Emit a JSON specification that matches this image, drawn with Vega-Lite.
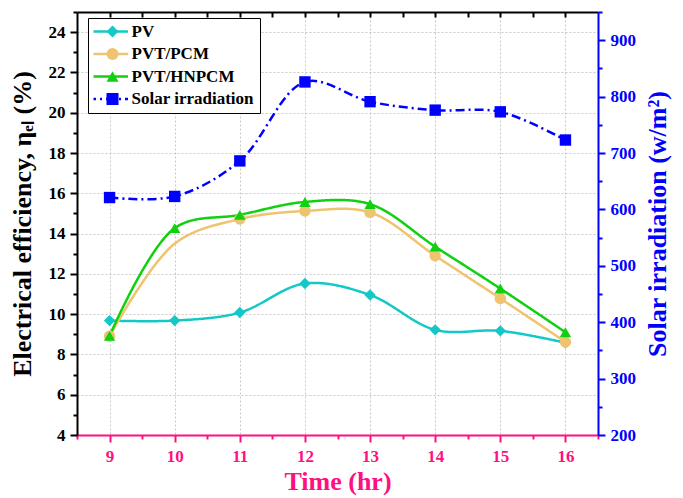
{
  "$schema": "https://vega.github.io/schema/vega-lite/v6.json",
  "width": 521,
  "height": 423,
  "autosize": {"type": "none"},
  "padding": {"left": 77, "top": 12, "right": 85, "bottom": 63},
  "background": "white",
  "config": {"font": "Liberation Serif", "view": {"stroke": null}},
  "datasets": {
    "eff": [
      {"series": "PV", "time": 9, "eff": 9.68},
      {"series": "PV", "time": 10, "eff": 9.68},
      {"series": "PV", "time": 11, "eff": 10.08},
      {"series": "PV", "time": 12, "eff": 11.52},
      {"series": "PV", "time": 13, "eff": 10.95},
      {"series": "PV", "time": 14, "eff": 9.22},
      {"series": "PV", "time": 15, "eff": 9.17},
      {"series": "PV", "time": 16, "eff": 8.58},
      {"series": "PVT/PCM", "time": 9, "eff": 8.9},
      {"series": "PVT/PCM", "time": 10, "eff": 13.5},
      {"series": "PVT/PCM", "time": 11, "eff": 14.72},
      {"series": "PVT/PCM", "time": 12, "eff": 15.12},
      {"series": "PVT/PCM", "time": 13, "eff": 15.05},
      {"series": "PVT/PCM", "time": 14, "eff": 12.9},
      {"series": "PVT/PCM", "time": 15, "eff": 10.78},
      {"series": "PVT/PCM", "time": 16, "eff": 8.62},
      {"series": "PVT/HNPCM", "time": 9, "eff": 8.92},
      {"series": "PVT/HNPCM", "time": 10, "eff": 14.27},
      {"series": "PVT/HNPCM", "time": 11, "eff": 14.93},
      {"series": "PVT/HNPCM", "time": 12, "eff": 15.57},
      {"series": "PVT/HNPCM", "time": 13, "eff": 15.46},
      {"series": "PVT/HNPCM", "time": 14, "eff": 13.35},
      {"series": "PVT/HNPCM", "time": 15, "eff": 11.27},
      {"series": "PVT/HNPCM", "time": 16, "eff": 9.1}
    ],
    "solar": [
      {"series": "Solar irradiation", "time": 9, "irr": 621},
      {"series": "Solar irradiation", "time": 10, "irr": 623},
      {"series": "Solar irradiation", "time": 11, "irr": 686},
      {"series": "Solar irradiation", "time": 12, "irr": 826},
      {"series": "Solar irradiation", "time": 13, "irr": 791},
      {"series": "Solar irradiation", "time": 14, "irr": 776},
      {"series": "Solar irradiation", "time": 15, "irr": 773},
      {"series": "Solar irradiation", "time": 16, "irr": 723}
    ]
  },
  "layer": [
    {
      "data": {"name": "eff"},
      "encoding": {
        "x": {
          "field": "time", "type": "quantitative",
          "scale": {"domain": [8.5, 16.5], "nice": false, "zero": false},
          "axis": {
            "orient": "bottom",
            "values": [8.5, 9, 9.5, 10, 10.5, 11, 11.5, 12, 12.5, 13, 13.5, 14, 14.5, 15, 15.5, 16, 16.5],
            "labelExpr": "datum.value % 1 === 0 ? format(datum.value, '.0f') : ''",
            "labelFont": "Liberation Serif", "labelFontSize": 17, "labelFontWeight": "bold", "labelColor": "#FF1080",
            "labelPadding": 6, "labelFlush": false, "labelOverlap": false,
            "domainColor": "#FF1080", "domainWidth": 2,
            "tickColor": "#FF1080", "tickWidth": 2,
            "tickSize": {"condition": {"test": "datum.value % 1 === 0", "value": 7}, "value": 4},
            "grid": true, "gridColor": "#C8C8C8", "gridDash": [2, 2], "gridWidth": 1,
            "gridOpacity": {"condition": {"test": "datum.value % 1 === 0", "value": 1}, "value": 0},
            "title": "Time (hr)", "titleFont": "Liberation Serif", "titleFontSize": 26, "titleFontWeight": "bold",
            "titleColor": "#FF1080", "titlePadding": 4
          }
        },
        "y": {
          "field": "eff", "type": "quantitative",
          "scale": {"domain": [4, 25], "nice": false, "zero": false},
          "axis": {
            "orient": "left",
            "values": [4, 5, 6, 7, 8, 9, 10, 11, 12, 13, 14, 15, 16, 17, 18, 19, 20, 21, 22, 23, 24, 25],
            "labelExpr": "datum.value % 2 === 0 ? datum.label : ''",
            "labelFont": "Liberation Serif", "labelFontSize": 17, "labelFontWeight": "bold", "labelColor": "black",
            "labelPadding": 5, "labelOverlap": false, "labelFlush": false,
            "domainColor": "black", "domainWidth": 2,
            "tickColor": "black", "tickWidth": 2,
            "tickSize": {"condition": {"test": "datum.value % 2 === 0", "value": 7}, "value": 4},
            "grid": true, "gridColor": "#C8C8C8", "gridDash": [2, 2], "gridWidth": 1,
            "gridOpacity": {"condition": {"test": "datum.value % 2 === 0 && datum.value > 4", "value": 1}, "value": 0},
            "title": "Electrical efficiency, ηₑₗ (%)", "titleFont": "Liberation Serif", "titleFontSize": 26, "titleFontWeight": "bold",
            "titleColor": "black", "titlePadding": 13
          }
        }
      },
      "layer": [
        {
          "mark": {"type": "line", "interpolate": "catmull-rom", "strokeWidth": 2.5},
          "encoding": {
            "stroke": {
              "field": "series", "type": "nominal",
              "scale": {"domain": ["PV", "PVT/PCM", "PVT/HNPCM", "Solar irradiation"], "range": ["#14C8C8", "#EEC470", "#10D010", "#0000FF"]},
              "legend": {
                "orient": "none", "legendX": 11, "legendY": 6, "title": null, "zindex": 1,
                "strokeColor": "black", "fillColor": "white", "padding": 5.5,
                "labelFont": "Liberation Serif", "labelFontSize": 17, "labelFontWeight": "bold", "labelColor": "black",
                "symbolType": "stroke", "symbolSize": 1681, "symbolStrokeWidth": 2.5, "symbolOffset": -8, "labelOffset": 2,
                "rowPadding": 5.5, "clipHeight": 16
              }
            },
            "strokeDash": {
              "field": "series", "type": "nominal",
              "scale": {"domain": ["PV", "PVT/PCM", "PVT/HNPCM", "Solar irradiation"], "range": [[1, 0], [1, 0], [1, 0], [9, 4, 2, 4]]},
              "legend": {
                "orient": "none", "legendX": 11, "legendY": 6, "title": null, "zindex": 1,
                "strokeColor": "black", "fillColor": "white", "padding": 5.5,
                "labelFont": "Liberation Serif", "labelFontSize": 17, "labelFontWeight": "bold", "labelColor": "black",
                "symbolType": "stroke", "symbolSize": 1681, "symbolStrokeWidth": 2.5, "symbolOffset": -8, "labelOffset": 2,
                "rowPadding": 5.5, "clipHeight": 16
              }
            }
          }
        },
        {
          "transform": [{"filter": "!(datum.series === 'PVT/PCM' && datum.time === 10)"}],
          "mark": {"type": "point", "filled": true, "opacity": 1, "size": 130},
          "encoding": {
            "fill": {
              "field": "series", "type": "nominal",
              "scale": {"domain": ["Solar irradiation", "PV", "PVT/PCM", "PVT/HNPCM"], "range": ["#0000FF", "#14C8C8", "#EEC470", "#10D010"]},
              "legend": {
                "orient": "top-left", "offset": 6, "title": null, "zindex": 2,
                "values": ["PV", "PVT/PCM", "PVT/HNPCM", "Solar irradiation"],
                "padding": 5.5, "labelExpr": "''", "labelFontSize": 17,
                "symbolSize": 144, "symbolOffset": 15.5, "symbolStrokeWidth": 0,
                "rowPadding": 5.5, "clipHeight": 16
              }
            },
            "shape": {
              "field": "series", "type": "nominal",
              "scale": {"domain": ["Solar irradiation", "PV", "PVT/PCM", "PVT/HNPCM"], "range": ["square", "diamond", "circle", "triangle-up"]},
              "legend": {
                "orient": "top-left", "offset": 6, "title": null, "zindex": 2,
                "values": ["PV", "PVT/PCM", "PVT/HNPCM", "Solar irradiation"],
                "padding": 5.5, "labelExpr": "''", "labelFontSize": 17,
                "symbolSize": 144, "symbolOffset": 15.5, "symbolStrokeWidth": 0,
                "rowPadding": 5.5, "clipHeight": 16
              }
            }
          }
        }
      ]
    },
    {
      "data": {"name": "solar"},
      "encoding": {
        "x": {
          "field": "time", "type": "quantitative",
          "scale": {"domain": [8.5, 16.5], "nice": false, "zero": false},
          "axis": {
            "orient": "top",
            "values": [9, 9.5, 10, 10.5, 11, 11.5, 12, 12.5, 13, 13.5, 14, 14.5, 15, 15.5, 16],
            "labels": false, "title": null, "grid": false,
            "domainColor": "black", "domainWidth": 2,
            "tickColor": "black", "tickWidth": 2, "tickSize": -5
          }
        },
        "y": {
          "field": "irr", "type": "quantitative",
          "scale": {"domain": [200, 950], "nice": false, "zero": false},
          "axis": {
            "orient": "right",
            "values": [200, 250, 300, 350, 400, 450, 500, 550, 600, 650, 700, 750, 800, 850, 900, 950],
            "labelExpr": "datum.value % 100 === 0 ? datum.label : ''",
            "labelFont": "Liberation Serif", "labelFontSize": 17, "labelFontWeight": "bold", "labelColor": "#0000FF",
            "labelPadding": 5, "labelOverlap": false, "labelFlush": false,
            "domainColor": "#0000FF", "domainWidth": 2,
            "tickColor": "#0000FF", "tickWidth": 2,
            "tickSize": {"condition": {"test": "datum.value % 100 === 0", "value": 7}, "value": 4},
            "grid": false,
            "title": "Solar irradiation (w/m²)", "titleFont": "Liberation Serif", "titleFontSize": 26, "titleFontWeight": "bold",
            "titleColor": "#0000FF", "titlePadding": 9, "titleAngle": 270, "titleBaseline": "top"
          }
        }
      },
      "layer": [
        {
          "mark": {"type": "line", "interpolate": "catmull-rom", "strokeWidth": 2.5},
          "encoding": {
            "stroke": {"field": "series", "type": "nominal"},
            "strokeDash": {"field": "series", "type": "nominal"}
          }
        },
        {
          "mark": {"type": "point", "filled": true, "opacity": 1, "size": 130},
          "encoding": {
            "fill": {"field": "series", "type": "nominal"},
            "shape": {"field": "series", "type": "nominal"}
          }
        }
      ]
    }
  ],
  "resolve": {"scale": {"y": "independent"}, "axis": {"x": "independent"}}
}
